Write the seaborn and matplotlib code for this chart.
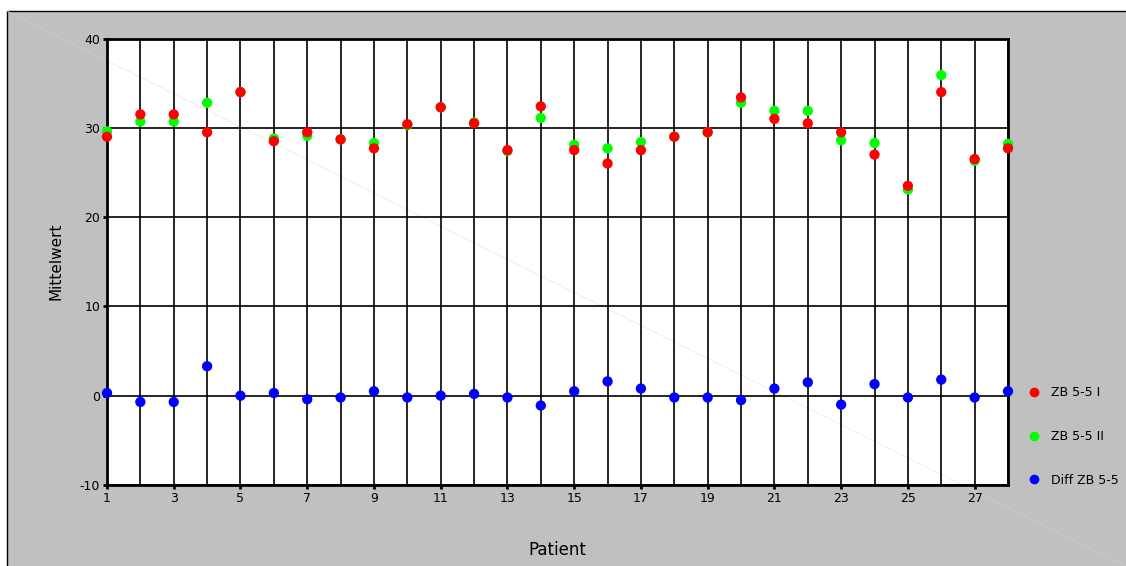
import pandas as pd
import numpy as np
import matplotlib
matplotlib.use("Agg")
import matplotlib.pyplot as plt
import seaborn as sns
from matplotlib.patches import Rectangle
from matplotlib.lines import Line2D

plt.rcParams["axes.unicode_minus"] = False

# data
patients = list(range(1, 29))
zb_i = [29.0, 31.5, 31.5, 29.5, 34.0, 28.5, 29.5, 28.7, 27.7, 30.4,
        32.3, 30.5, 27.5, 32.4, 27.5, 26.0, 27.5, 29.0, 29.5, 33.4,
        31.0, 30.5, 29.5, 27.0, 23.5, 34.0, 26.5, 27.7]
zb_ii = [29.6, 30.7, 30.7, 32.8, 34.0, 28.8, 29.1, 28.7, 28.3, 30.3,
         32.3, 30.6, 27.4, 31.1, 28.1, 27.7, 28.4, 29.0, 29.5, 32.8,
         31.9, 31.9, 28.6, 28.3, 23.1, 35.9, 26.3, 28.2]
diff = [0.3, -0.7, -0.7, 3.3, 0.0, 0.3, -0.4, -0.2, 0.5, -0.2,
        0.0, 0.2, -0.2, -1.1, 0.5, 1.6, 0.8, -0.2, -0.2, -0.5,
        0.8, 1.5, -1.0, 1.3, -0.2, 1.8, -0.2, 0.5]
series_names = ["ZB 5-5 I", "ZB 5-5 II", "Diff ZB 5-5"]
series_colors = ["#ff0000", "#00ff00", "#0000ff"]

# green first so red sits on top of it, like in the original
df = pd.concat([
    pd.DataFrame({"Patient": patients, "Mittelwert": zb_ii, "Reihe": series_names[1]}),
    pd.DataFrame({"Patient": patients, "Mittelwert": zb_i, "Reihe": series_names[0]}),
    pd.DataFrame({"Patient": patients, "Mittelwert": diff, "Reihe": series_names[2]}),
], ignore_index=True)

W, H = 1126, 566
fig = plt.figure(figsize=(W / 100, H / 100), dpi=100)
fig.patch.set_facecolor("white")

# grey chart background with black border left/top
fig.add_artist(Rectangle((7 / W, -0.01), 1.01 - 7 / W, 1.01 - 11 / H, transform=fig.transFigure,
                         facecolor="#c0c0c0", edgecolor="black", lw=1, zorder=-2))
# faint diagonal across the chart (behind the plot area)
diag_x = [7 / W, 1]
diag_y = [1 - 11 / H, 0]
fig.add_artist(Line2D(diag_x, diag_y, transform=fig.transFigure,
                      color="#cbcbcb", lw=0.6, zorder=-1))

ax = fig.add_axes([107 / W, 1 - 485 / H, (1008 - 107) / W, (485 - 38.5) / H])
ax.set_facecolor("white")
# same diagonal, seen faintly on the white plot area
ax.add_line(Line2D(diag_x, diag_y, transform=fig.transFigure,
                   color="#ebebeb", lw=0.6, zorder=0.3))

palette = dict(zip(series_names, series_colors))
sns.scatterplot(data=df, x="Patient", y="Mittelwert", hue="Reihe", palette=palette,
                s=55, edgecolor="none", ax=ax, zorder=3, clip_on=False, legend=False)

ax.set_xlim(1, 28)
ax.set_ylim(-10, 40)
ax.set_xticks(range(1, 28, 2))
ax.set_xticks(range(1, 29), minor=True)
ax.set_yticks(range(-10, 41, 10))
ax.grid(True, which="both", axis="x", color="black", lw=1.2)
ax.grid(True, which="major", axis="y", color="black", lw=1.2)
ax.set_axisbelow(True)
for sp in ax.spines.values():
    sp.set_color("black")
    sp.set_linewidth(2)
ax.tick_params(which="major", length=3, width=2, color="black", labelsize=9, pad=2)
ax.tick_params(which="minor", length=0)
ax.set_xlabel("Patient", fontsize=12, labelpad=26)
ax.set_ylabel("Mittelwert", fontsize=11, labelpad=12)

handles = [Line2D([], [], marker="o", ls="none", color=c, markersize=7, markeredgewidth=0)
           for c in series_colors]
ax.legend(handles, series_names, loc="upper left", bbox_to_anchor=(1015 / W, 1 - 375 / H),
          bbox_transform=fig.transFigure, frameon=False, fontsize=9, labelspacing=2.45,
          handletextpad=0.8, handlelength=1.2)

plt.savefig("out.png", dpi=100, facecolor=fig.get_facecolor())
